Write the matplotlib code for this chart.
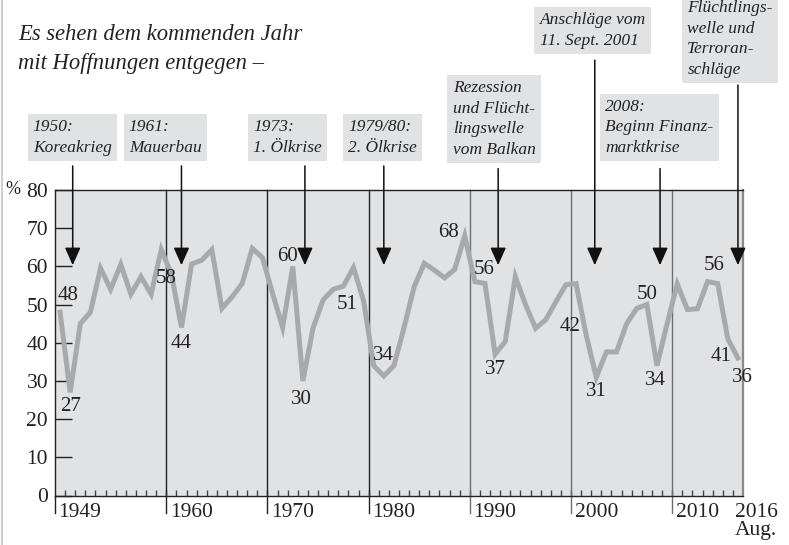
import numpy as np
import matplotlib.pyplot as plt
from matplotlib.lines import Line2D

# Allensbach-type series: share looking forward with hope to the coming year (%)
years = np.arange(1949, 2017)
hope = [48, 27, 45, 48, 59.5, 54, 60.5, 52.7, 57.3, 52.7,        # 1949-58
        64.4, 58, 44, 60.6, 61.6, 64.4, 49, 52, 55.5, 64.7,      # 1959-68
        62.3, 53, 44, 60, 30, 43.8, 51.2, 54, 54.8, 59.7,        # 1969-78
        51, 34, 31.3, 34, 44, 54.7, 60.8, 59, 57, 59.2,          # 1979-88
        68, 56, 55.5, 37, 40.3, 57.3, 50, 43.8, 46, 50.7,        # 1989-98
        55.2, 55.5, 42, 31, 37.6, 37.6, 45, 49, 50, 34,          # 1999-2008
        45, 55.4, 48.7, 48.9, 56, 55.5, 41, 36]                  # 2009-16

labelled_years = [1949, 1950, 1960, 1961, 1972, 1973, 1979, 1980, 1989,
                  1990, 1992, 2001, 2002, 2007, 2008, 2013, 2015, 2016]

events = ['1950:\nKoreakrieg', '1961:\nMauerbau', '1973:\n1. Ölkrise',
          '1979/80:\n2. Ölkrise', 'Rezession\nund Flücht-\nlingswelle\nvom Balkan',
          'Anschläge vom\n11. Sept. 2001', '2008:\nBeginn Finanz-\nmarktkrise',
          'Flüchtlings-\nwelle und\nTerroran-\nschläge']
event_x = [1950.75, 1961.5, 1973.7, 1981.5, 1992.8, 2002.35, 2008.8, 2016.5]

decades = [1960, 1970, 1980, 1990, 2000, 2010]
yticks = [0, 10, 20, 30, 40, 50, 60, 70, 80]

# layout only: label offsets (years, %) and event box corners (years, %)
label_off = [(0.8, 4.5), (0.0, -3.7), (-0.5, -1.3), (-0.05, -4.3), (-0.55, 2.5),
             (-0.1, -4.8), (-1.6, -1.0), (0.95, 2.6), (-1.6, 0.9), (0.9, 3.2),
             (0.0, -4.1), (-1.6, 2.2), (0.0, -3.8), (0.0, 2.7), (-0.2, -4.0),
             (0.6, 4.2), (-0.7, -4.5), (0.45, -5.1)]
box_pos = [(1946.8, 98.6), (1956.3, 98.6), (1968.6, 98.6), (1978.0, 98.6),
           (1988.3, 108.8), (1996.9, 126.5), (2003.4, 103.9), (2011.5, 129.7)]
arrow_top = [86.3, 86.3, 86.3, 86.3, 85.6, 114.0, 85.6, 107.5]

BG = '#e1e2e4'
LINE = '#a8a9ac'
FONT = 'Liberation Serif'

fig = plt.figure(figsize=(7.89, 5.45), dpi=100)
ax = fig.add_axes([55 / 789, 1 - 495.5 / 545, 688 / 789, 305.5 / 545])
ax.set_facecolor(BG)
ax.set_xlim(1949, 2017)
ax.set_ylim(0, 80)

ax.plot(years + 0.5, hope, color=LINE, lw=3.6, solid_joinstyle='miter', zorder=3)

# decade separators, running a little below the axis
for d in decades:
    c = '#222222' if d < 1990 else '#6e6e6e'
    ax.plot([d, d], [-4.7, 80], color=c, lw=1.0, clip_on=False, zorder=2)
ax.plot([1949, 1949], [-4.7, 0], color='#222222', lw=1.0, clip_on=False)

for sp in ['top', 'bottom', 'left']:
    ax.spines[sp].set_color('#222222')
    ax.spines[sp].set_linewidth(1.0)
ax.spines['right'].set_color('#8a8a8a')
ax.spines['right'].set_linewidth(1.6)

ax.set_yticks(yticks)
ax.set_yticklabels([str(v) for v in yticks], fontfamily=FONT, fontsize=15.5)
ax.tick_params(axis='y', direction='in', length=12.5, width=1.0, color='#222222',
               pad=5, labelcolor='#222222')
ax.text(1945.6, 80, '%', fontfamily=FONT, fontsize=13, ha='right', va='center',
        color='#222222', clip_on=False)

ax.set_xticks([])
ax.set_xticks(np.arange(1950, 2017), minor=True)
ax.tick_params(axis='x', which='minor', direction='in', length=4.5, width=1.0,
               color='#444444')
for y in [1949] + decades:
    ax.text(y + 0.35, -1.9, str(y), fontfamily=FONT, fontsize=15.5, ha='left',
            va='top', color='#222222')
ax.text(2016.2, -1.9, '2016\nAug.', fontfamily=FONT, fontsize=15.5, ha='left',
        va='top', color='#222222', linespacing=0.95)

# value labels
for (yr, (dx, dy)) in zip(labelled_years, label_off):
    v = hope[yr - 1949]
    ax.text(yr + 0.5 + dx, v + dy, f'{v:.0f}', fontfamily=FONT, fontsize=15,
            ha='center', va='center', color='#222222', zorder=4)

# event boxes and arrows
for txt, (bx, by), ex, top in zip(events, box_pos, event_x, arrow_top):
    ax.text(bx, by, txt, fontfamily=FONT, fontstyle='italic', fontsize=12.5,
            ha='left', va='top', color='#222222', linespacing=1.38, clip_on=False,
            bbox=dict(boxstyle='square,pad=0.3', fc=BG, ec='none'))
    ax.annotate('', xy=(ex, 60.3), xytext=(ex, top), annotation_clip=False,
                arrowprops=dict(arrowstyle='-|>,head_length=0.9,head_width=0.4',
                                mutation_scale=12, color='#111111', lw=1.1,
                                shrinkA=0, shrinkB=0))

title_lines = ['Es sehen dem kommenden Jahr', 'mit Hoffnungen entgegen –']
for i, line in enumerate(title_lines):
    fig.text(18 / 789, 1 - (39.5 + 30 * i) / 545, line, fontfamily=FONT,
             fontstyle='italic', fontsize=16.3, ha='left', va='baseline',
             color='#222222')

fig.add_artist(Line2D([0.002, 0.002], [0, 1], transform=fig.transFigure,
                      color='#cfcfcf', lw=1.5))

fig.savefig('out.png', dpi=100)
